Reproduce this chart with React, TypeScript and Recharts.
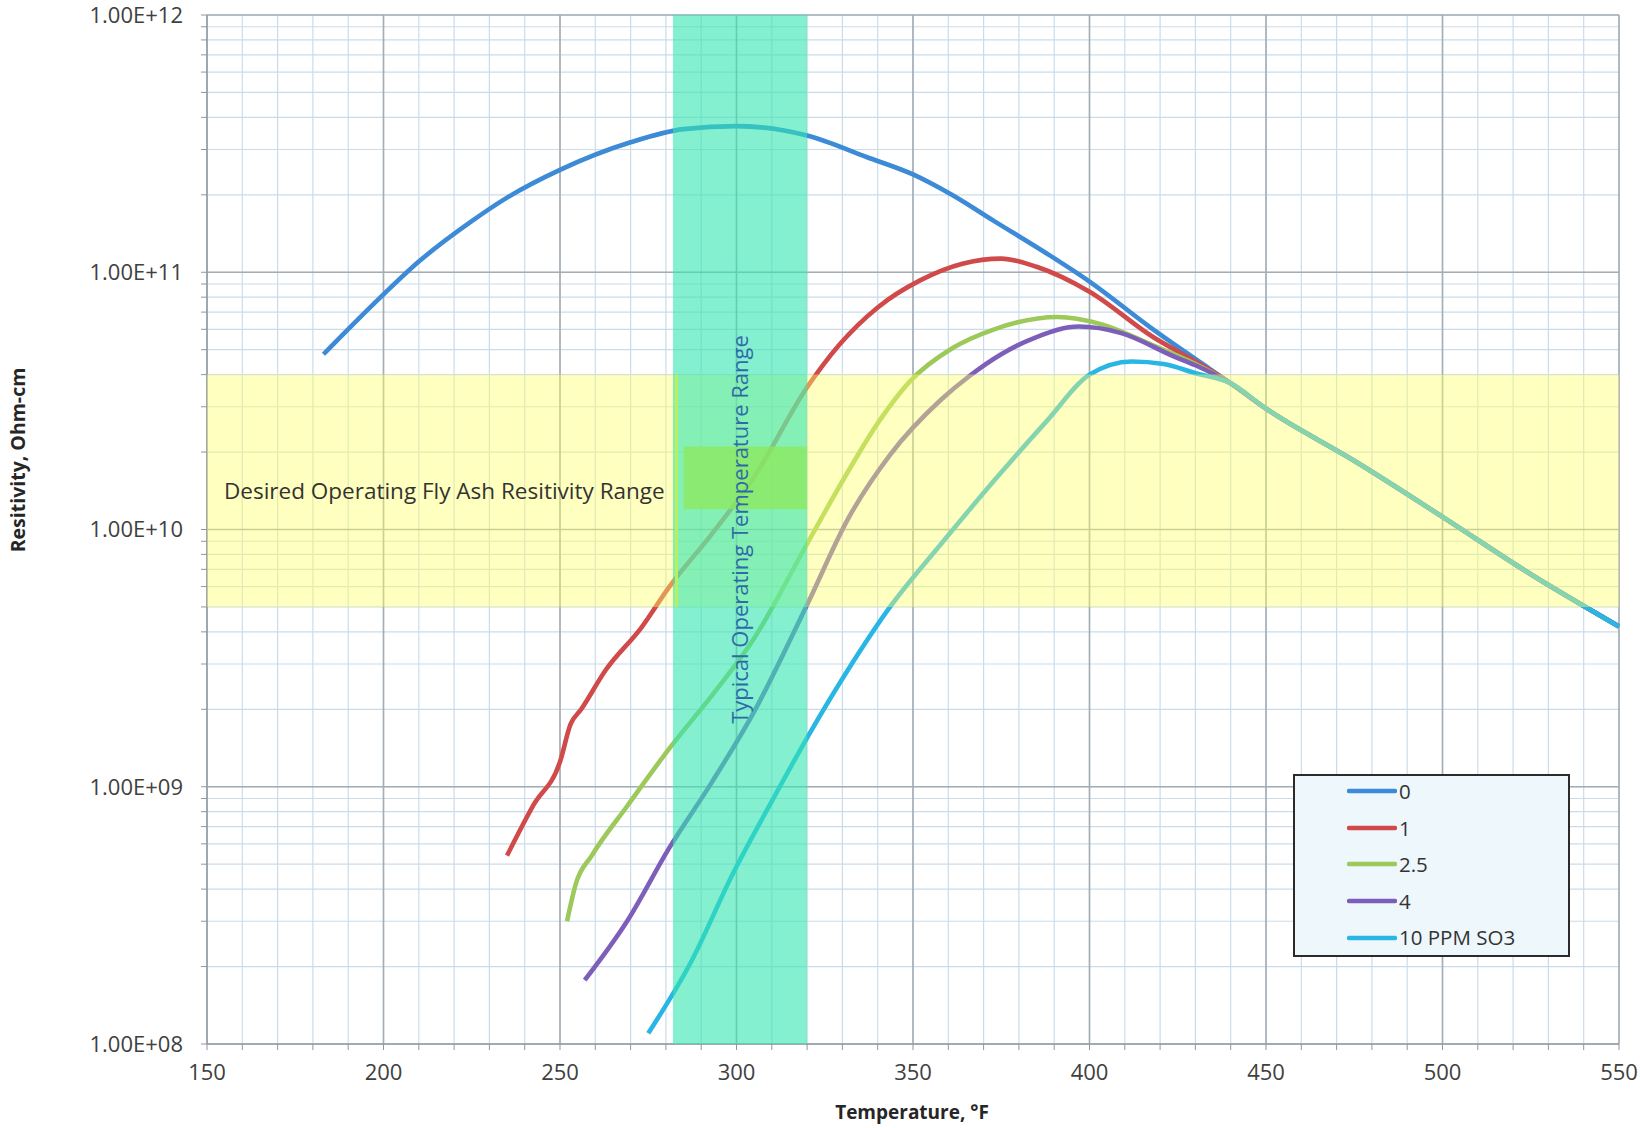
import { LineChart, Line, XAxis, YAxis, CartesianGrid, ReferenceArea, ReferenceLine, Legend, Label } from 'recharts';

// Fly ash resistivity vs temperature, log scale, with the desired resistivity
// band and the typical operating temperature window laid over the curves.

const FONT = "'Open Sans', 'Liberation Sans', sans-serif";

// temperatures (°F) and resistivities (ohm-cm), one pair of arrays per SO3 level
const T_0 = [183, 192, 200, 210, 225, 235, 250, 270, 285, 300, 320, 337, 350, 361, 373, 388, 400, 418, 430];
const R_0 = [4.8e10, 6.4e10, 8.2e10, 1.1e11, 1.58e11, 1.95e11, 2.5e11, 3.2e11, 3.6e11, 3.7e11, 3.4e11, 2.8e11, 2.4e11, 2.0e11, 1.58e11, 1.18e11, 9.2e10, 6.0e10, 4.6e10];

const T_1 = [235, 242.5, 250, 253, 256, 263, 273, 281, 293, 305, 320, 329, 340, 352, 364, 375, 385, 400, 418, 430];
const R_1 = [5.4e8, 8.5e8, 1.25e9, 1.75e9, 2.0e9, 2.85e9, 4.15e9, 6.0e9, 9.6e9, 1.6e10, 3.57e10, 5.2e10, 7.3e10, 9.3e10, 1.08e11, 1.13e11, 1.05e11, 8.4e10, 5.6e10, 4.5e10];

const T_25 = [252, 254.5, 259, 269, 281, 293, 305, 320, 330, 340.5, 349, 361, 373, 391, 403, 418, 430];
const R_25 = [3.0e8, 4.2e8, 5.4e8, 8.4e8, 1.41e9, 2.26e9, 3.78e9, 8.8e9, 1.54e10, 2.65e10, 3.75e10, 5.05e10, 6.0e10, 6.7e10, 6.3e10, 5.2e10, 4.4e10];

const T_4 = [257, 269, 281, 293, 305, 320, 331.6, 343.5, 358, 366, 375, 385, 397, 409, 424, 430];
const R_4 = [1.77e8, 3.0e8, 5.8e8, 1.04e9, 1.96e9, 5.1e9, 1.1e10, 1.95e10, 3.2e10, 3.95e10, 4.8e10, 5.6e10, 6.15e10, 5.8e10, 4.7e10, 4.35e10];

const T_10 = [275, 287, 299, 311, 320, 331.6, 343.5, 358, 373, 388, 400, 412, 421, 430];
const R_10 = [1.1e8, 2.07e8, 4.6e8, 9.3e8, 1.55e9, 2.85e9, 5.0e9, 8.8e9, 1.55e10, 2.65e10, 4.0e10, 4.5e10, 4.4e10, 4.05e10];

// all curves merge into one line past ~440 °F
const T_TAIL = [440, 450, 475, 500, 525, 550];
const R_TAIL = [3.7e10, 2.95e10, 1.85e10, 1.12e10, 6.7e9, 4.2e9];

const SERIES_NAMES = ['0', '1', '2.5', '4', '10 PPM SO3'];
const SERIES_COLORS = ['#3d8ad6', '#d04a4a', '#9cc95a', '#7d5fb9', '#2ab6e4'];

const X_TICKS = [150, 160, 170, 180, 190, 200, 210, 220, 230, 240, 250, 260, 270, 280, 290, 300, 310, 320, 330, 340, 350, 360, 370, 380, 390, 400, 410, 420, 430, 440, 450, 460, 470, 480, 490, 500, 510, 520, 530, 540, 550];
const X_MAJOR = [150, 200, 250, 300, 350, 400, 450, 500, 550];
const Y_MAJOR = [1e8, 1e9, 1e10, 1e11, 1e12];
const Y_TICKS = [
  1e8, 2e8, 3e8, 4e8, 5e8, 6e8, 7e8, 8e8, 9e8,
  1e9, 2e9, 3e9, 4e9, 5e9, 6e9, 7e9, 8e9, 9e9,
  1e10, 2e10, 3e10, 4e10, 5e10, 6e10, 7e10, 8e10, 9e10,
  1e11, 2e11, 3e11, 4e11, 5e11, 6e11, 7e11, 8e11, 9e11,
  1e12,
];

// bands
const TEMP_RANGE = [282, 320];
const RES_RANGE = [5e9, 4e10];
const OVERLAP_X = [285, 320];
const OVERLAP_Y = [1.2e10, 2.1e10];
const EDGE_T = 283;

type Pt = { t: number; r: number };
const rows = (t: number[], r: number[]): Pt[] => [
  ...t.map((x, i) => ({ t: x, r: r[i] })),
  ...T_TAIL.map((x, i) => ({ t: x, r: R_TAIL[i] })),
];
const SERIES_DATA = [rows(T_0, R_0), rows(T_1, R_1), rows(T_25, R_25), rows(T_4, R_4), rows(T_10, R_10)];

const fmtY = (v: number) => {
  const e = Math.log10(v);
  const k = Math.round(e);
  return Math.abs(e - k) < 1e-6 ? `1.00E+${String(k).padStart(2, '0')}` : '';
};
const fmtX = (v: number) => (v % 50 === 0 ? String(v) : '');

const tick = { fill: '#404040', fontSize: 22, fontFamily: FONT };
const C = { minor: '#cadcea', major: '#a4acb4', axis: '#8e979f' };

function YTitle() {
  return (
    <text x={17} y={460} transform="rotate(-90 17 460)" textAnchor="middle" dominantBaseline="central"
      fontFamily={FONT} fontWeight={700} fontSize={19.5} fill="#262626">Resitivity, Ohm-cm</text>
  );
}
function XTitle() {
  return (
    <text x={912} y={1112} textAnchor="middle" dominantBaseline="central"
      fontFamily={FONT} fontWeight={700} fontSize={19} fill="#262626">Temperature, °F</text>
  );
}

function LegendBox() {
  return (
    <div style={{ boxSizing: 'border-box', width: 277, height: 183, border: '2px solid #2b2b2b', background: '#eef7fc' }}>
      <div style={{ marginTop: -3 }}>
        {SERIES_NAMES.map((n, i) => (
          <div key={n} style={{ height: 36.6, display: 'flex', alignItems: 'center', paddingLeft: 52 }}>
            <svg width={50} height={8}><line x1={2} y1={4} x2={48} y2={4} stroke={SERIES_COLORS[i]} strokeWidth={4.5} strokeLinecap="round" /></svg>
            <span style={{ fontFamily: FONT, fontSize: 20.5, color: '#333', marginLeft: 2, lineHeight: 1 }}>{n}</span>
          </div>
        ))}
      </div>
    </div>
  );
}

export default function App() {
  return (
    <div style={{ position: 'absolute', left: 0, top: 0, width: 1640, height: 1128, background: '#fff' }}>
      <LineChart width={1640} height={1128} margin={{ top: 15, right: 21, bottom: 0, left: 0 }}>
        <CartesianGrid stroke={C.minor} strokeWidth={1.2} />
        <CartesianGrid stroke={C.major} strokeWidth={1.6} horizontalValues={Y_MAJOR} verticalValues={X_MAJOR} />
        <XAxis dataKey="t" type="number" domain={[150, 550]} ticks={X_TICKS} interval={0} tickFormatter={fmtX}
          height={84} tick={tick} tickSize={6} tickMargin={14} stroke={C.axis} allowDuplicatedCategory={false}
          label={<XTitle />} />
        <YAxis dataKey="r" type="number" scale="log" domain={[1e8, 1e12]} allowDataOverflow ticks={Y_TICKS} interval={0}
          tickFormatter={fmtY} width={207} tick={tick} tickSize={6} tickMargin={18} stroke={C.axis}
          label={<YTitle />} />
        {SERIES_DATA.map((d, i) => (
          <Line key={SERIES_NAMES[i]} data={d} dataKey="r" name={SERIES_NAMES[i]} type="monotone"
            stroke={SERIES_COLORS[i]} strokeWidth={4.6} dot={false} activeDot={false} isAnimationActive={false} />
        ))}
        <ReferenceArea y1={RES_RANGE[0]} y2={RES_RANGE[1]} fill="#ffff66" fillOpacity={0.42} stroke="none" zIndex={600}
          label={<Label value="Desired Operating Fly Ash Resitivity Range" position="insideLeft" offset={17}
            fill="#333" fontSize={22.5} fontFamily={FONT} />} />
        <ReferenceArea x1={TEMP_RANGE[0]} x2={TEMP_RANGE[1]} fill="#33e6b0" fillOpacity={0.6} stroke="none" zIndex={600} />
        <ReferenceArea x1={OVERLAP_X[0]} x2={OVERLAP_X[1]} y1={OVERLAP_Y[0]} y2={OVERLAP_Y[1]} fill="#8ee85a" fillOpacity={0.75} stroke="none" zIndex={600} />
        <ReferenceLine segment={[{ x: EDGE_T, y: RES_RANGE[0] }, { x: EDGE_T, y: RES_RANGE[1] }]} stroke="#b8f060" strokeWidth={3} zIndex={600} />
        <ReferenceArea x1={TEMP_RANGE[0]} x2={TEMP_RANGE[1]} fill="none" fillOpacity={0} stroke="none" zIndex={700}
          label={<Label value="Typical Operating Temperature Range" position="center" angle={-90}
            fill="#2f6aa8" fontSize={22} fontFamily={FONT} />} />
        <Legend layout="vertical" align="center" verticalAlign="middle" content={<LegendBox />}
          wrapperStyle={{ left: 1293, top: 774, width: 277, height: 183 }} />
      </LineChart>
    </div>
  );
}
